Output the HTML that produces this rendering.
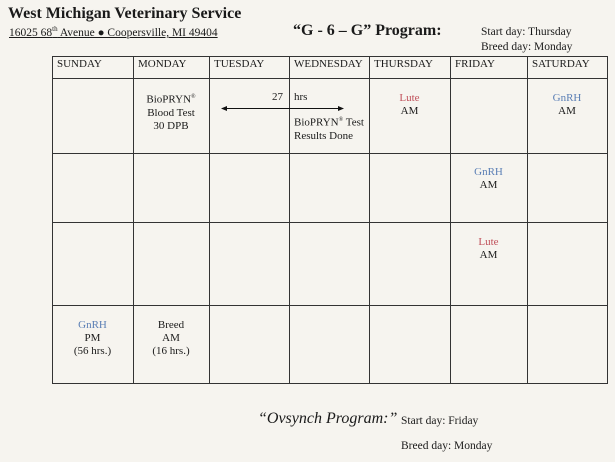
<!DOCTYPE html>
<html><head><style>
body{margin:0;width:615px;height:462px;background:#f6f4ef;font-family:"Liberation Serif",serif;color:#1a1a1a;position:relative;overflow:hidden}
.a{position:absolute;white-space:nowrap}
.c{position:absolute;text-align:center;font-size:11px;line-height:13px}
.r{color:#c0505a}.b{color:#5b7fb5}
</style></head><body>
<div class="a" style="left:8px;top:5px;font-size:16px;font-weight:bold">West Michigan Veterinary Service</div>
<div class="a" style="left:9px;top:25px;font-size:11.5px;text-decoration:underline">16025 68<sup style="font-size:7px">th</sup> Avenue ● Coopersville, MI 49404</div>
<div class="a" style="left:293px;top:22px;font-size:16px;font-weight:bold">“G - 6 – G” Program:</div>
<div class="a" style="left:481px;top:26px;font-size:11.5px">Start day: Thursday</div>
<div class="a" style="left:481px;top:41px;font-size:11.5px">Breed day: Monday</div>
<svg class="a" style="left:0;top:0" width="615" height="462">
<g stroke="#333" stroke-width="1" fill="none">
<rect x="52.5" y="56.5" width="555" height="327"/>
<line x1="52" y1="78.5" x2="607" y2="78.5"/>
<line x1="52" y1="153.5" x2="607" y2="153.5"/>
<line x1="52" y1="222.5" x2="607" y2="222.5"/>
<line x1="52" y1="305.5" x2="607" y2="305.5"/>
<line x1="133.5" y1="56" x2="133.5" y2="383"/>
<line x1="209.5" y1="56" x2="209.5" y2="383"/>
<line x1="289.5" y1="56" x2="289.5" y2="383"/>
<line x1="369.5" y1="56" x2="369.5" y2="383"/>
<line x1="450.5" y1="56" x2="450.5" y2="383"/>
<line x1="527.5" y1="56" x2="527.5" y2="383"/>
<line x1="224" y1="108.5" x2="340" y2="108.5" stroke="#111"/>
</g>
<polygon points="221,108.5 227,106 227,111" fill="#111"/>
<polygon points="344,108.5 338,106 338,111" fill="#111"/>
</svg>
<div class="a" style="left:57px;top:58px;font-size:11px">SUNDAY</div>
<div class="a" style="left:138px;top:58px;font-size:11px">MONDAY</div>
<div class="a" style="left:214px;top:58px;font-size:11px">TUESDAY</div>
<div class="a" style="left:294px;top:58px;font-size:11px">WEDNESDAY</div>
<div class="a" style="left:374px;top:58px;font-size:11px">THURSDAY</div>
<div class="a" style="left:455px;top:58px;font-size:11px">FRIDAY</div>
<div class="a" style="left:532px;top:58px;font-size:11px">SATURDAY</div>
<div class="c" style="left:133px;top:91px;width:76px">BioPRYN<sup style="font-size:6px">®</sup><br>Blood Test<br>30 DPB</div>
<div class="a" style="left:272px;top:91px;font-size:11px">27</div>
<div class="a" style="left:294px;top:91px;font-size:11px">hrs</div>
<div class="a" style="left:294px;top:114px;font-size:11px;line-height:13px">BioPRYN<sup style="font-size:6px">®</sup> Test<br>Results Done</div>
<div class="c" style="left:369px;top:92px;width:81px"><span class="r">Lute</span><br>AM</div>
<div class="c" style="left:527px;top:92px;width:80px"><span class="b">GnRH</span><br>AM</div>
<div class="c" style="left:450px;top:166px;width:77px"><span class="b">GnRH</span><br>AM</div>
<div class="c" style="left:450px;top:236px;width:77px"><span class="r">Lute</span><br>AM</div>
<div class="c" style="left:52px;top:319px;width:81px"><span class="b">GnRH</span><br>PM<br>(56 hrs.)</div>
<div class="c" style="left:133px;top:319px;width:76px">Breed<br>AM<br>(16 hrs.)</div>
<div class="a" style="left:258px;top:410px;font-size:16px;font-style:italic">“Ovsynch Program:”</div>
<div class="a" style="left:401px;top:415px;font-size:11.5px">Start day: Friday</div>
<div class="a" style="left:401px;top:440px;font-size:11.5px">Breed day: Monday</div>
</body></html>
